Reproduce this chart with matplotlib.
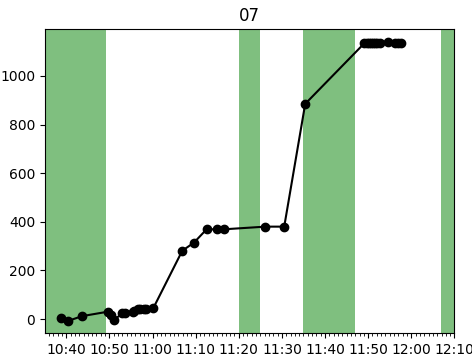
import datetime as dt
import matplotlib
matplotlib.use("Agg")
import matplotlib.pyplot as plt
import matplotlib.dates as mdates

# data
times = ["10:38:51", "10:40:22", "10:43:42", "10:49:36", "10:50:24", "10:51:06",
         "10:52:55", "10:53:42", "10:55:22", "10:55:40", "10:56:32", "10:57:10",
         "10:58:00", "10:58:32", "11:00:13", "11:06:54", "11:09:36", "11:12:32",
         "11:15:00", "11:16:32", "11:26:10", "11:30:32", "11:35:24",
         "11:49:06", "11:49:48", "11:50:12", "11:50:42", "11:51:12", "11:51:36",
         "11:52:06", "11:52:48", "11:54:36", "11:56:18", "11:57:00", "11:57:42"]
values = [3, -8, 12, 30, 16, -4,
          23, 25, 30, 35, 40, 42,
          42, 43, 46, 281, 314, 369,
          369, 369, 380, 380, 885,
          1134, 1134, 1135, 1135, 1135, 1135,
          1136, 1136, 1138, 1136, 1135, 1135]

# shaded periods (start, end)
spans = [("10:30:00", "10:49:14"), ("11:20:00", "11:25:00"),
         ("11:35:00", "11:47:00"), ("12:06:54", "12:15:00")]

title = "07"


def to_dt(s):
    return dt.datetime.strptime("2020-01-01 " + s, "%Y-%m-%d %H:%M:%S")


x = [to_dt(t) for t in times]

fig = plt.figure(figsize=(4.72, 3.56), dpi=100)
ax = fig.add_axes([0.0953, 0.0646, 0.8675, 0.854])

for a, b in spans:
    ax.axvspan(to_dt(a), to_dt(b), color="green", alpha=0.5, lw=0)

ax.plot(x, values, "o-", color="black", lw=1.5, ms=6)

ax.set_xlim(to_dt("10:35:04"), to_dt("12:10:00"))
ax.set_ylim(-57.5, 1193)
ax.xaxis.set_major_locator(mdates.MinuteLocator(byminute=range(0, 60, 10)))
ax.xaxis.set_minor_locator(mdates.MinuteLocator())
ax.xaxis.set_major_formatter(mdates.DateFormatter("%H:%M"))
ax.set_title(title)

fig.savefig("out.png", dpi=100)
